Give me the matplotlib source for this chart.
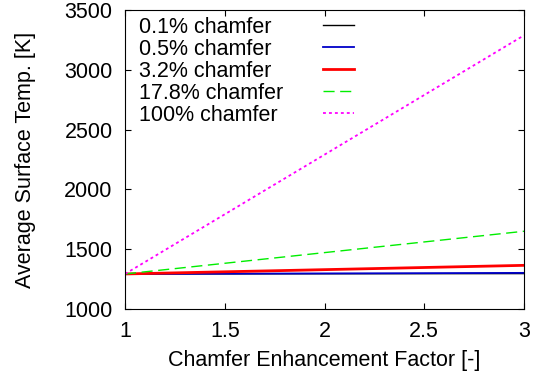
import matplotlib
matplotlib.use('Agg')
import matplotlib.pyplot as plt

plt.rcParams['font.family'] = ['Liberation Sans', 'DejaVu Sans']

# enhancement factor (x) and average surface temperature at the ends
factor = [1, 3]
labels = ['0.1% chamfer', '0.5% chamfer', '3.2% chamfer', '17.8% chamfer', '100% chamfer']
temp_01 = [1293, 1296]
temp_05 = [1293, 1302]
temp_32 = [1293, 1365]
temp_178 = [1293, 1650]
temp_100 = [1293, 3288]

series = [temp_01, temp_05, temp_32, temp_178, temp_100]
colors = ['black', '#0000c8', '#ff0000', '#00ee00', '#ff00ff']
styles = ['-', '-', '-', (0, (8, 4)), (0, (1.6, 1.7))]
widths = [1.0, 1.3, 2.0, 1.0, 1.3]

fs = 15.5

fig = plt.figure(figsize=(5.33, 3.86), dpi=100)
ax = fig.add_axes([125 / 533, 1 - 309 / 386, 399 / 533, 299 / 386])

for vals, c, ls, lw in zip(series, colors, styles, widths):
    ax.plot(factor, vals, color=c, linestyle=ls, linewidth=lw)

# gnuplot style key: label on the left, line sample on the right
for i, (lab, c, ls, lw) in enumerate(zip(labels, colors, styles, widths)):
    y = 0.95 - i * 0.0735
    ax.text(0.035, y, lab, transform=ax.transAxes, fontsize=fs,
            va='center_baseline', ha='left')
    ax.plot([0.497, 0.575], [y, y], transform=ax.transAxes,
            color=c, linestyle=ls, linewidth=lw)

ax.set_xlim(1, 3)
ax.set_ylim(1000, 3500)
ax.set_xticks([1, 1.5, 2, 2.5, 3])
ax.set_xticklabels(['1', '1.5', '2', '2.5', '3'])
ax.set_yticks(range(1000, 3501, 500))
ax.tick_params(direction='in', top=True, right=True, length=4, labelsize=fs)
ax.tick_params(axis='x', pad=8.5)
ax.tick_params(axis='y', pad=9)
ax.set_xlabel('Chamfer Enhancement Factor [-]', fontsize=fs, labelpad=6)
ax.set_ylabel('Average Surface Temp. [K]', fontsize=fs, labelpad=20)

fig.savefig('out.png', dpi=100)
